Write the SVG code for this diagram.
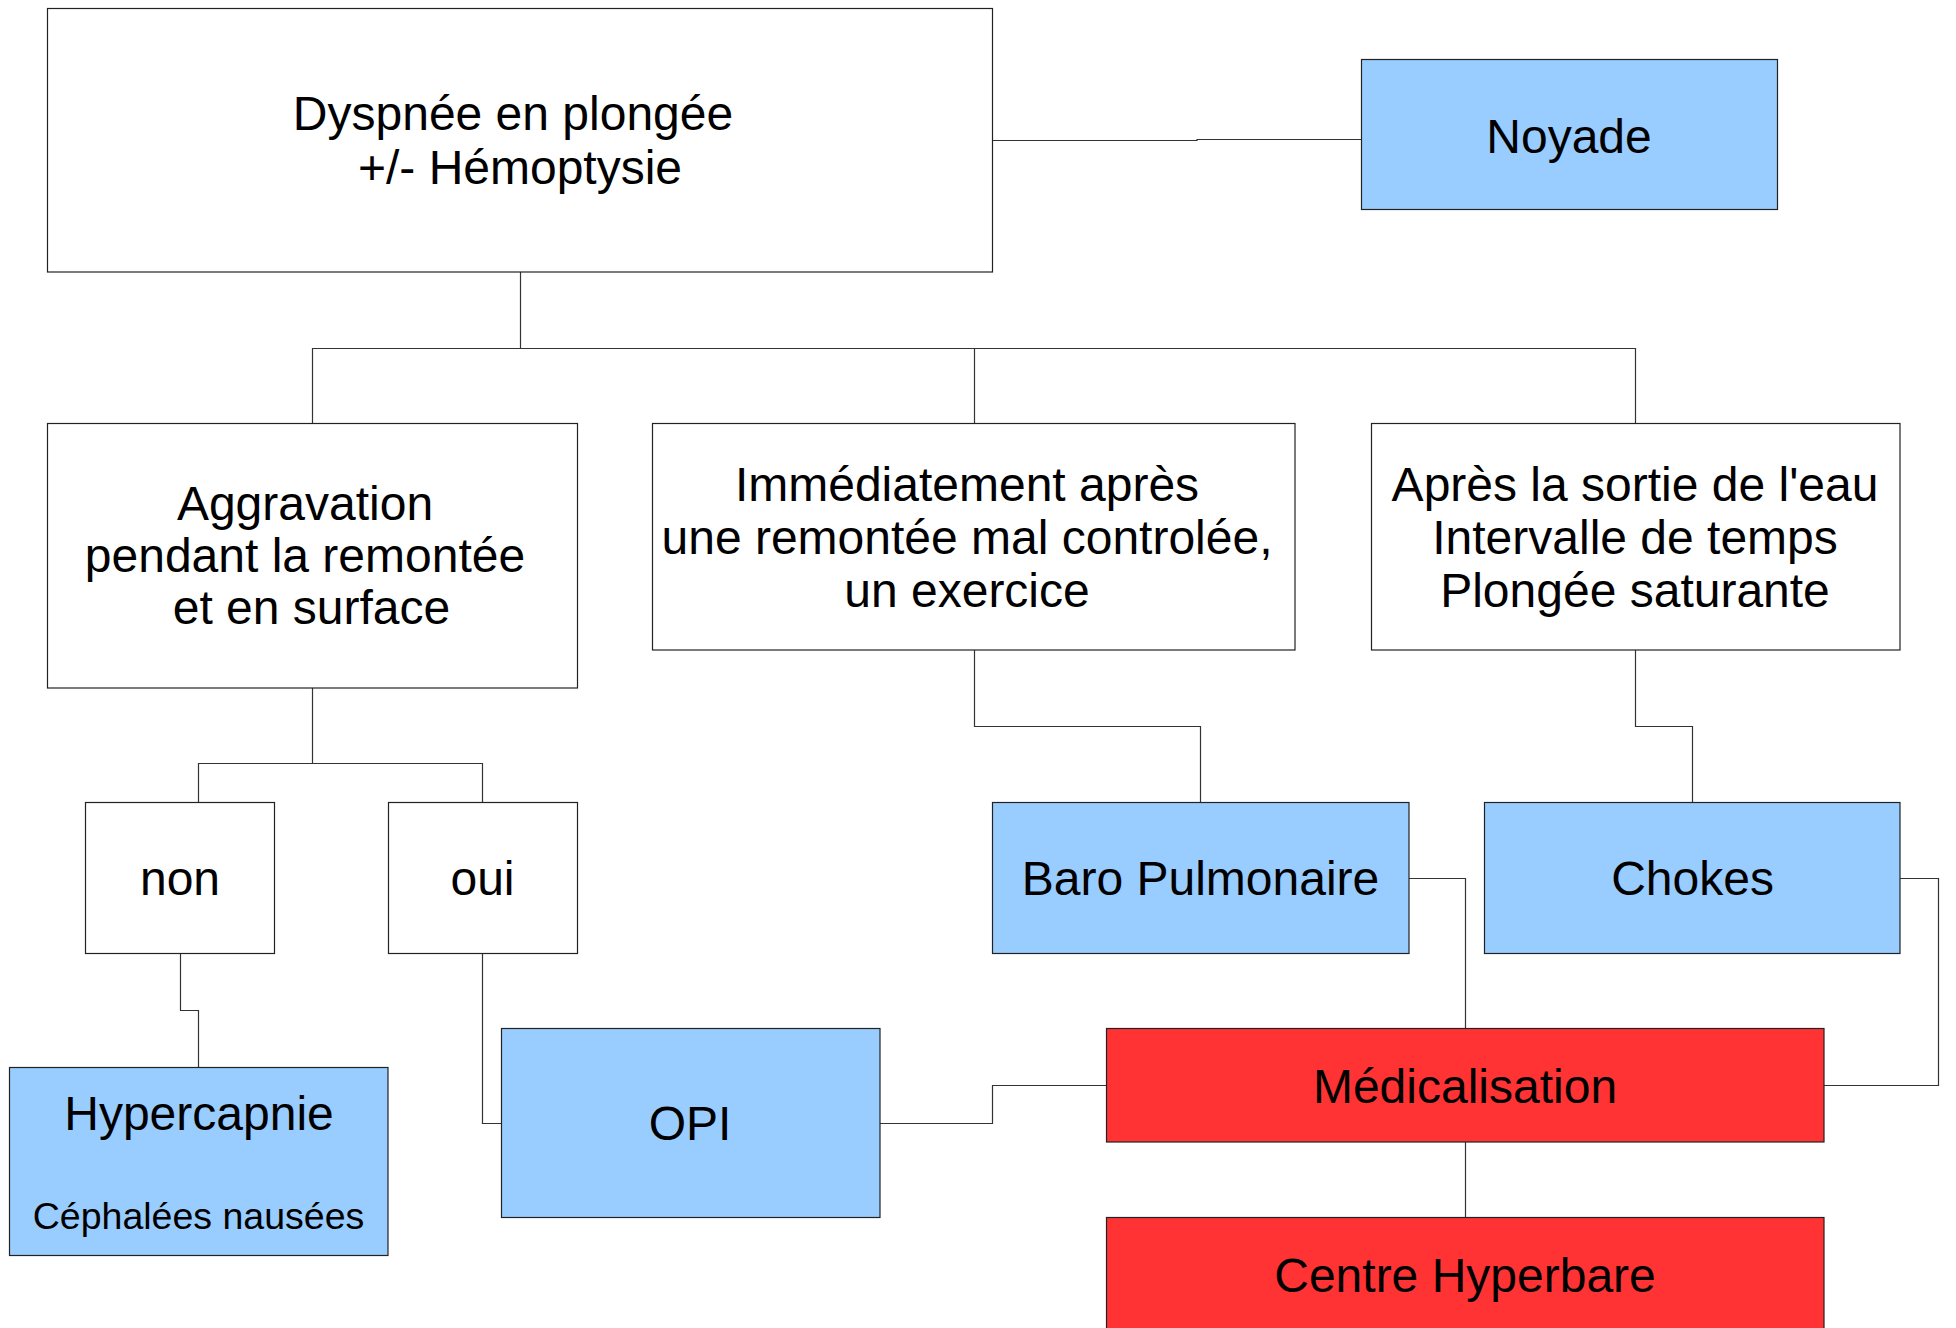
<svg xmlns="http://www.w3.org/2000/svg" width="1956" height="1328" viewBox="0 0 1956 1328">
<style>
  .box{fill:#ffffff;stroke:#222;stroke-width:1.2}
  .blue{fill:#99ccff;stroke:#222;stroke-width:1.2}
  .red{fill:#ff3333;stroke:#222;stroke-width:1.2}
  .t{font-family:"Liberation Sans",Arial,sans-serif;font-size:48px;fill:#000;text-anchor:middle}
  .s{font-size:37.5px}
  .c{fill:none;stroke:#333;stroke-width:1.2}
</style>
<rect width="1956" height="1328" fill="#ffffff"/>
<g id="connectors">
  <path class="c" d="M993,140.5 H1197 V139.5 H1361"/>
  <path class="c" d="M520.5,272 V348.5"/>
  <path class="c" d="M312.5,423 V348.5 H1635.5 V423"/>
  <path class="c" d="M974.5,348.5 V423"/>
  <path class="c" d="M312.5,688 V763.5"/>
  <path class="c" d="M198.5,802 V763.5 H482.5 V802"/>
  <path class="c" d="M180.5,953 V1010.5 H198.5 V1067"/>
  <path class="c" d="M482.5,953 V1123.5 H501"/>
  <path class="c" d="M974.5,650 V726.5 H1200.5 V802"/>
  <path class="c" d="M1635.5,650 V726.5 H1692.5 V802"/>
  <path class="c" d="M1409,878.5 H1465.5 V1028"/>
  <path class="c" d="M1900,878.5 H1938.5 V1085.5 H1824"/>
  <path class="c" d="M880,1123.5 H992.5 V1085.5 H1106"/>
  <path class="c" d="M1465.5,1142 V1217"/>
</g>
<g id="dyspnee">
  <rect class="box" x="47.5" y="8.5" width="945" height="263.5"/>
  <text class="t" x="513" y="130">Dyspnée en plongée</text>
  <text class="t" x="520" y="184">+/- Hémoptysie</text>
</g>
<g id="noyade">
  <rect class="blue" x="1361.5" y="59.5" width="416" height="150"/>
  <text class="t" x="1569" y="153">Noyade</text>
</g>
<g id="aggravation">
  <rect class="box" x="47.5" y="423.5" width="530" height="264.5"/>
  <text class="t" x="305" y="520">Aggravation</text>
  <text class="t" x="305" y="572">pendant la remontée</text>
  <text class="t" x="311.5" y="624">et en surface</text>
</g>
<g id="immediatement">
  <rect class="box" x="652.5" y="423.5" width="642.5" height="226.5"/>
  <text class="t" x="967" y="501">Immédiatement après</text>
  <text class="t" x="967" y="554">une remontée mal controlée,</text>
  <text class="t" x="967" y="607">un exercice</text>
</g>
<g id="apres">
  <rect class="box" x="1371.5" y="423.5" width="528.5" height="226.5"/>
  <text class="t" x="1635" y="501">Après la sortie de l'eau</text>
  <text class="t" x="1635" y="554">Intervalle de temps</text>
  <text class="t" x="1635" y="607">Plongée saturante</text>
</g>
<g id="non">
  <rect class="box" x="85.5" y="802.5" width="189" height="151"/>
  <text class="t" x="180" y="895">non</text>
</g>
<g id="oui">
  <rect class="box" x="388.5" y="802.5" width="189" height="151"/>
  <text class="t" x="482.5" y="895">oui</text>
</g>
<g id="baro">
  <rect class="blue" x="992.5" y="802.5" width="416.5" height="151"/>
  <text class="t" x="1200.5" y="895">Baro Pulmonaire</text>
</g>
<g id="chokes">
  <rect class="blue" x="1484.5" y="802.5" width="415.5" height="151"/>
  <text class="t" x="1692.5" y="895">Chokes</text>
</g>
<g id="hypercapnie">
  <rect class="blue" x="9.5" y="1067.5" width="378.5" height="188"/>
  <text class="t" x="199" y="1130">Hypercapnie</text>
  <text class="t s" x="198.5" y="1229">Céphalées nausées</text>
</g>
<g id="opi">
  <rect class="blue" x="501.5" y="1028.5" width="378.5" height="189"/>
  <text class="t" x="690" y="1140">OPI</text>
</g>
<g id="medicalisation">
  <rect class="red" x="1106.5" y="1028.5" width="717.5" height="113.5"/>
  <text class="t" x="1465" y="1103">Médicalisation</text>
</g>
<g id="centre">
  <rect class="red" x="1106.5" y="1217.5" width="717.5" height="130"/>
  <text class="t" x="1465" y="1292">Centre Hyperbare</text>
</g>
</svg>
